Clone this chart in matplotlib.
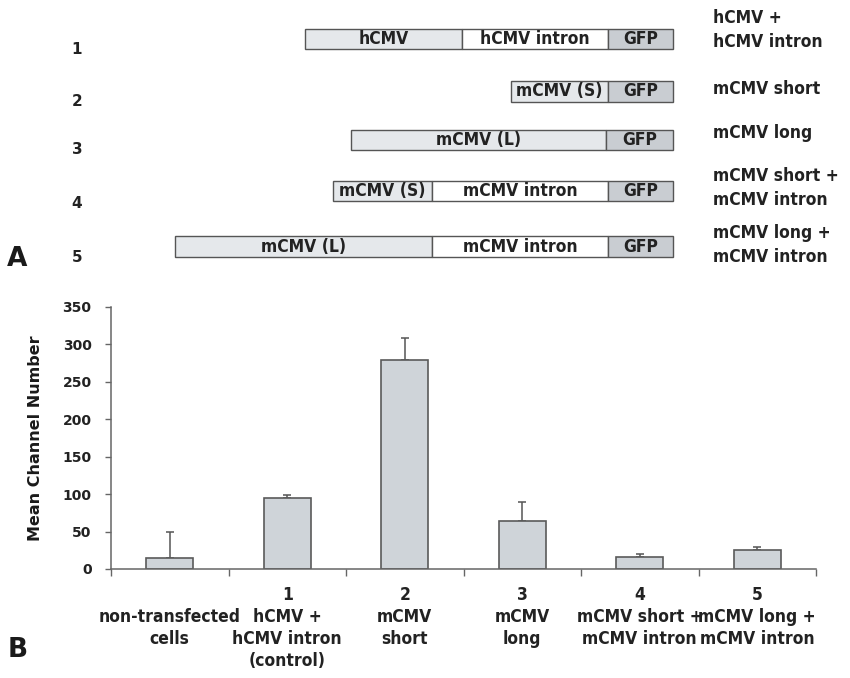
import matplotlib.pyplot as plt
from matplotlib.patches import Rectangle
from matplotlib import font_manager
from matplotlib.font_manager import FontProperties

# look for a condensed bold face for the labels
cond = None
for f in font_manager.fontManager.ttflist:
    bold = f.weight in ('bold', 700, 'heavy', 800) or 'Bold' in f.fname
    narrowish = (f.stretch in ('condensed', 'semi-condensed', 'extra-condensed')
                 or 'Narrow' in f.name or 'Condensed' in f.name or 'Condensed' in f.fname)
    if bold and narrowish and 'Oblique' not in f.fname and 'Italic' not in f.fname:
        cond = f.fname
        break
if cond:
    lab_fp = FontProperties(fname=cond, size=12.5)
else:
    lab_fp = FontProperties(family='DejaVu Sans', weight='bold', size=10.5)

# panel A: construct layout (segment name, length in map units), right-aligned at GFP end
construct_ids = ['1', '2', '3', '4', '5']
construct_names = ['hCMV +\nhCMV intron', 'mCMV short', 'mCMV long',
                   'mCMV short +\nmCMV intron', 'mCMV long +\nmCMV intron']
segments = [
    [('hCMV', 157), ('hCMV intron', 146), ('GFP', 65)],
    [('mCMV (S)', 97), ('GFP', 65)],
    [('mCMV (L)', 255), ('GFP', 67)],
    [('mCMV (S)', 99), ('mCMV intron', 176), ('GFP', 65)],
    [('mCMV (L)', 257), ('mCMV intron', 176), ('GFP', 65)],
]
seg_colors = {'intron': 'white', 'GFP': '#c9cdd2', 'promoter': '#e5e8eb'}

# panel B: mean channel number per construct
categories = ['non-transfected\ncells', '1\nhCMV +\nhCMV intron\n(control)', '2\nmCMV\nshort',
              '3\nmCMV\nlong', '4\nmCMV short +\nmCMV intron', '5\nmCMV long +\nmCMV intron']
means = [15, 95, 279, 64, 16, 26]
errors = [35, 4, 30, 25, 4, 4]
yticks = [0, 50, 100, 150, 200, 250, 300, 350]

fig = plt.figure(figsize=(8.5, 6.78), dpi=100)

# --- panel A, drawn in figure pixel space ---
axA = fig.add_axes([0, 0, 1, 1])
axA.set_xlim(0, 850)
axA.set_ylim(678, 0)
axA.axis('off')

row_y = [39, 91.5, 140, 191, 246.5]
num_y = [50, 102, 150, 203, 257]
label_y = [30, 89, 133, 188, 245]
box_h = 20.5
right_end = 673
for i, segs in enumerate(segments):
    total = sum(l for _, l in segs)
    x = right_end - total
    for name, length in segs:
        if name == 'GFP':
            fc = seg_colors['GFP']
        elif 'intron' in name:
            fc = seg_colors['intron']
        else:
            fc = seg_colors['promoter']
        axA.add_patch(Rectangle((x, row_y[i] - box_h / 2), length, box_h,
                                facecolor=fc, edgecolor='#555555', lw=1.0))
        axA.text(x + length / 2, row_y[i], name, ha='center', va='center',
                 fontproperties=lab_fp, color='#222222')
        x += length
    axA.text(77, num_y[i], construct_ids[i], ha='center', va='center',
             fontweight='bold', fontsize=11, color='#222222')
    axA.text(713, label_y[i], construct_names[i], ha='left', va='center',
             fontproperties=lab_fp, color='#222222', linespacing=1.45)
axA.text(17, 259, 'A', ha='center', va='center', fontweight='bold', fontsize=19, color='#1a1a1a')
axA.text(18, 650, 'B', ha='center', va='center', fontweight='bold', fontsize=19, color='#1a1a1a')

# --- panel B: bar chart ---
ax = fig.add_axes([111 / 850, 1 - 569 / 678, 705 / 850, 262 / 678])
xs = list(range(len(means)))
ax.bar(xs, means, width=0.4, color='#cfd4d9', edgecolor='#5a5a5a', lw=1.2, zorder=2)
ax.errorbar(xs, means, yerr=[[0] * len(errors), errors], fmt='none',
            ecolor='#555555', elinewidth=1.1, capsize=3, capthick=1.1, zorder=1)
ax.set_xlim(-0.5, len(means) - 0.5)
ax.set_ylim(0, 350)
ax.set_yticks(yticks)
ax.set_yticklabels([str(v) for v in yticks], fontweight='bold', fontsize=10, color='#222222')
ax.set_xticks([i + 0.5 for i in range(-1, len(means))])
ax.set_xticklabels([])
ax.tick_params(axis='x', length=5, width=1, color='#666666', direction='out')
ax.tick_params(axis='y', length=4, width=1, color='#666666', direction='out', pad=10)
for side in ['top', 'right']:
    ax.spines[side].set_visible(False)
for side in ['left', 'bottom']:
    ax.spines[side].set_color('#666666')
    ax.spines[side].set_linewidth(1.1)
ax.set_ylabel('Mean Channel Number', fontweight='bold', fontsize=11.5, color='#1a1a1a', labelpad=14)

for i, lab in enumerate(categories):
    ax.annotate(lab, xy=(i, 0), xycoords='data', xytext=(0, -28 if i == 0 else -12),
                textcoords='offset points', ha='center', va='top',
                fontproperties=lab_fp, color='#222222',
                linespacing=1.3, annotation_clip=False)

fig.savefig('out.png', dpi=100)
